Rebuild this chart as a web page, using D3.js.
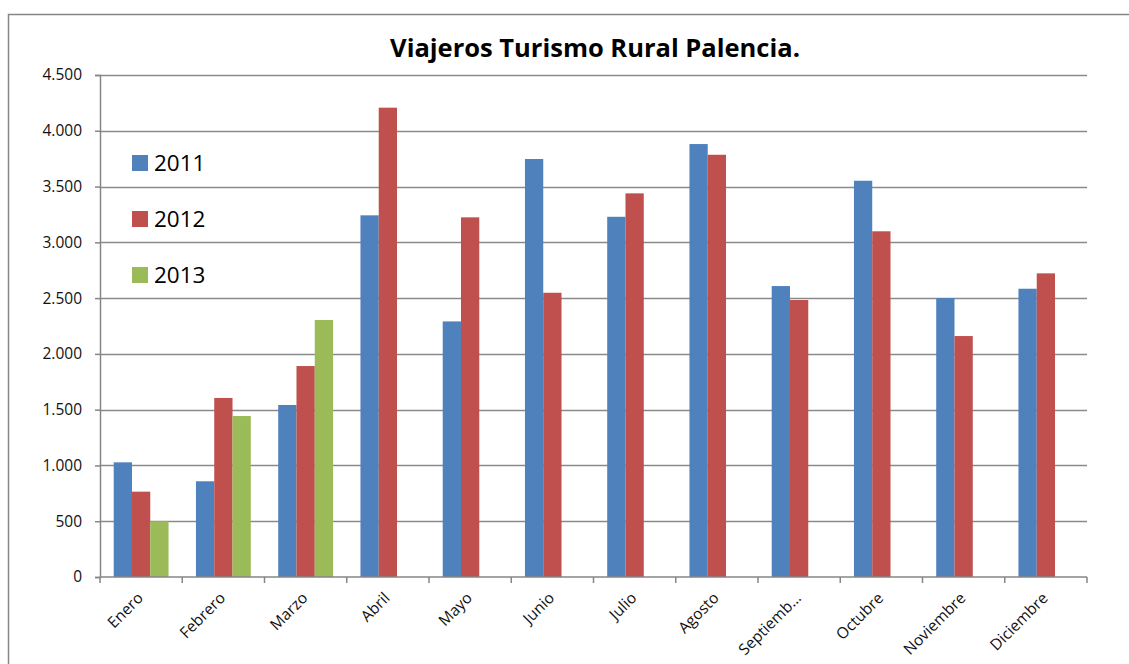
<!DOCTYPE html>
<html>
<head>
<meta charset="utf-8">
<style>
  html, body { margin: 0; padding: 0; background: #fff; }
  body { font-family: 'Open Sans', Lato, sans-serif; }
</style>
</head>
<body>
<script src="https://d3js.org/d3.v7.min.js"></script>
<script>
// data
var months = ["Enero", "Febrero", "Marzo", "Abril", "Mayo", "Junio", "Julio", "Agosto", "Septiemb…", "Octubre", "Noviembre", "Diciembre"];
var years = ["2011", "2012", "2013"];
var v2011 = [1028, 858, 1542, 3242, 2291, 3747, 3229, 3881, 2608, 3552, 2501, 2584];
var v2012 = [765, 1605, 1891, 4207, 3224, 2548, 3439, 3785, 2483, 3099, 2160, 2722];
var v2013 = [499, 1443, 2304, null, null, null, null, null, null, null, null, null];
var yTicks = [0, 500, 1000, 1500, 2000, 2500, 3000, 3500, 4000, 4500];
var colors = ["#4F81BD", "#C0504D", "#9BBB59"];

var series = [v2011, v2012, v2013];

var W = 1129, H = 664;
var plot = { left: 100, right: 1087, top: 75, bottom: 577 };

var svg = d3.select("body").append("svg")
  .attr("width", W)
  .attr("height", H);

// chart frame
svg.append("rect")
  .attr("x", 8.5).attr("y", 14.5)
  .attr("width", 1140).attr("height", 700)
  .attr("fill", "#fff")
  .attr("stroke", "#868686")
  .attr("stroke-width", 1.5);

var es = d3.formatLocale({ decimal: ",", thousands: ".", grouping: [3], currency: ["", "€"] });
var fmt = es.format(",d");

var x = d3.scaleBand().domain(months).range([plot.left, plot.right]).paddingInner(0).paddingOuter(0);
// gap width 150%: three bars per group, 0.75 bar width gap on each side
var x1 = d3.scaleBand().domain(years).range([0, x.bandwidth()]).paddingInner(0).paddingOuter(0.75);
var y = d3.scaleLinear().domain([0, 4500]).range([plot.bottom, plot.top]);

// gridlines
svg.append("g")
  .selectAll("line")
  .data(yTicks.slice(1))
  .join("line")
    .attr("x1", plot.left).attr("x2", plot.right)
    .attr("y1", function(d) { return Math.round(y(d)) + 0.5; })
    .attr("y2", function(d) { return Math.round(y(d)) + 0.5; })
    .attr("stroke", "#8a8a8a")
    .attr("stroke-width", 1.3);

// bars
var groups = svg.append("g")
  .selectAll("g")
  .data(months)
  .join("g")
    .attr("transform", function(d) { return "translate(" + x(d) + ",0)"; });

groups.selectAll("rect")
  .data(function(m, i) {
    return years.map(function(yr, j) { return { year: yr, value: series[j][i], c: colors[j] }; })
      .filter(function(d) { return d.value != null; });
  })
  .join("rect")
    .attr("x", function(d) { return x1(d.year); })
    .attr("y", function(d) { return y(d.value); })
    .attr("width", x1.bandwidth())
    .attr("height", function(d) { return y(0) - y(d.value); })
    .attr("fill", function(d) { return d.c; });

// y axis
var yAxis = svg.append("g")
  .attr("transform", "translate(" + plot.left + ",0)")
  .call(d3.axisLeft(y).tickValues(yTicks).tickFormat(fmt).tickSize(5).tickPadding(13));
yAxis.select(".domain").attr("stroke", "#868686").attr("stroke-width", 1.5);
yAxis.selectAll(".tick line").attr("stroke", "#868686").attr("stroke-width", 1.5);
yAxis.selectAll("text")
  .attr("font-family", "'Open Sans', Lato, sans-serif")
  .attr("font-size", "15.5px")
  .attr("fill", "#111");

// x axis: ticks at band boundaries
var xAxis = svg.append("g")
  .attr("transform", "translate(0," + plot.bottom + ")");
xAxis.append("line")
  .attr("x1", plot.left).attr("x2", plot.right)
  .attr("y1", 0).attr("y2", 0)
  .attr("stroke", "#868686").attr("stroke-width", 1.5);
xAxis.selectAll("line.tk")
  .data(months.map(function(m) { return x(m); }).concat([plot.right]))
  .join("line")
    .attr("class", "tk")
    .attr("x1", function(d) { return d; }).attr("x2", function(d) { return d; })
    .attr("y1", 0).attr("y2", 6)
    .attr("stroke", "#868686").attr("stroke-width", 1.5);
xAxis.selectAll("text.lb")
  .data(months)
  .join("text")
    .attr("class", "lb")
    .attr("transform", function(d) { return "translate(" + (x(d) + x.bandwidth() / 2 + 3) + ",22) rotate(-45)"; })
    .attr("text-anchor", "end")
    .attr("font-size", "15.5px")
    .attr("fill", "#111")
    .text(function(d) { return d; });

// title
svg.append("text")
  .attr("x", 595).attr("y", 57)
  .attr("text-anchor", "middle")
  .attr("font-size", "25.5px")
  .attr("font-weight", 700)
  .attr("fill", "#000")
  .text("Viajeros Turismo Rural Palencia.");

// legend
var legend = svg.append("g")
  .selectAll("g")
  .data(years)
  .join("g")
    .attr("transform", function(d, i) { return "translate(132," + (155 + i * 56) + ")"; });
legend.append("rect")
  .attr("width", 16).attr("height", 16)
  .attr("fill", function(d, i) { return colors[i]; });
legend.append("text")
  .attr("x", 22).attr("y", 16)
  .attr("font-size", "22.5px")
  .attr("fill", "#000")
  .text(function(d) { return d; });
</script>
</body>
</html>
